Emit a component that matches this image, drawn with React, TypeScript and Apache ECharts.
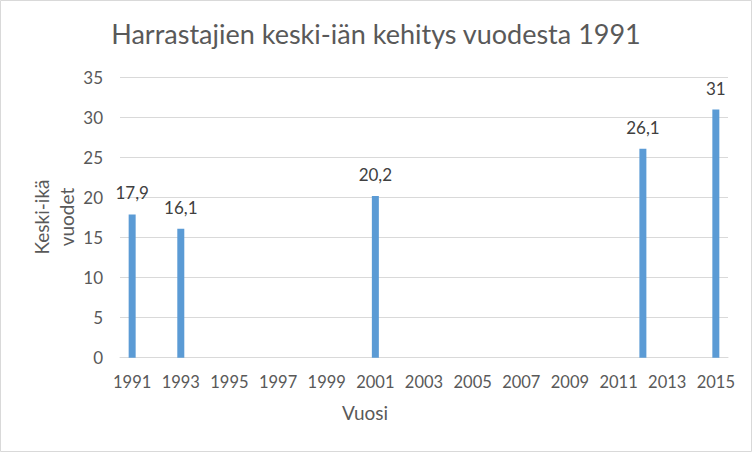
import React, { useEffect, useRef } from "react";
import * as echarts from "echarts";

const title = "Harrastajien keski-iän kehitys vuodesta 1991";
const xAxisName = "Vuosi";
const yAxisNameLines = ["Keski-ikä", "vuodet"];
const years = [
  "1991", "1992", "1993", "1994", "1995", "1996", "1997", "1998", "1999",
  "2000", "2001", "2002", "2003", "2004", "2005", "2006", "2007", "2008",
  "2009", "2010", "2011", "2012", "2013", "2014", "2015",
];
const ages: (number | null)[] = [
  17.9, null, 16.1, null, null, null, null, null, null,
  null, 20.2, null, null, null, null, null, null, null,
  null, null, null, 26.1, null, null, 31,
];
const yMin = 0;
const yMax = 35;
const yStep = 5;

const FONT = "Lato";

export default function App() {
  const ref = useRef<HTMLDivElement>(null);
  useEffect(() => {
    const chart = echarts.init(ref.current!, undefined, { renderer: "svg" });
    chart.setOption({
      animation: false,
      backgroundColor: "#ffffff",
      textStyle: { fontFamily: FONT },
      title: {
        text: title,
        left: "center",
        top: 15,
        textStyle: { fontFamily: FONT, fontSize: 27, fontWeight: "normal", color: "#595959" },
      },
      grid: { left: 120, right: 24, top: 77.5, bottom: 94.3, containLabel: false },
      xAxis: {
        type: "category",
        data: years,
        axisTick: { show: false },
        axisLine: { show: true, lineStyle: { color: "#d9d9d9", width: 1 } },
        axisLabel: { interval: 1, color: "#595959", fontSize: 16.5, fontFamily: FONT, margin: 16 },
        splitLine: { show: false },
      },
      yAxis: {
        type: "value",
        min: yMin,
        max: yMax,
        interval: yStep,
        axisLine: { show: false },
        axisTick: { show: false },
        axisLabel: { color: "#595959", fontSize: 17, fontFamily: FONT, margin: 17 },
        splitLine: { lineStyle: { color: "#d9d9d9", width: 1 } },
      },
      series: [
        {
          type: "bar",
          data: ages,
          barWidth: 7,
          itemStyle: { color: "#5b9bd5" },
          label: {
            show: true,
            position: "top",
            distance: 13,
            color: "#404040",
            fontSize: 17,
            fontFamily: FONT,
            formatter: (p: any) => String(p.value).replace(".", ","),
          },
        },
      ],
      graphic: [
        {
          type: "rect",
          shape: { x: 0.5, y: 0.5, width: 751, height: 451 },
          style: { fill: "none", stroke: "#d9d9d9", lineWidth: 1 },
          silent: true,
        },
        {
          type: "text",
          x: 365,
          y: 412,
          style: {
            text: xAxisName,
            fill: "#595959",
            font: `19px ${FONT}`,
            align: "center",
            verticalAlign: "middle",
          },
        },
        {
          type: "text",
          x: 54,
          y: 217,
          rotation: Math.PI / 2,
          style: {
            text: yAxisNameLines.join("\n"),
            fill: "#595959",
            font: `19px ${FONT}`,
            lineHeight: 25,
            align: "center",
            verticalAlign: "middle",
          },
        },
      ],
    });
    return () => chart.dispose();
  }, []);
  return (
    <div
      ref={ref}
      style={{ position: "absolute", left: 0, top: 0, width: 752, height: 452 }}
    />
  );
}
